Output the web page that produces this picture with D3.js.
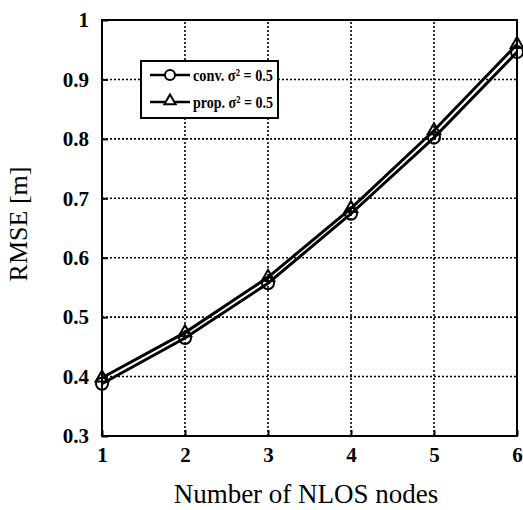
<!DOCTYPE html>
<html>
<head>
<meta charset="utf-8">
<script src="https://cdn.jsdelivr.net/npm/d3@7"></script>
<style>
  body { margin: 0; background: #fff; }
  text { font-family: "Liberation Serif", "DejaVu Serif", serif; }
</style>
</head>
<body>
<div id="chart"></div>
<script>
// data
var nodes = [1, 2, 3, 4, 5, 6]
var convRmse = [0.388, 0.465, 0.557, 0.674, 0.802, 0.946]
var propRmse = [0.398, 0.474, 0.567, 0.683, 0.814, 0.959]
var xTicks = [1, 2, 3, 4, 5, 6]
var yTicks = [0.3, 0.4, 0.5, 0.6, 0.7, 0.8, 0.9, 1]
var legendNames = ["conv. \u03c3\u00b2 = 0.5", "prop. \u03c3\u00b2 = 0.5"]

var width = 523, height = 510
var margin = {top: 20, right: 6, bottom: 74, left: 102}

var svg = d3.select("#chart").append("svg")
  .attr("width", width).attr("height", height)

var x = d3.scaleLinear().domain([1, 6]).range([margin.left, width - margin.right])
var y = d3.scaleLinear().domain([0.3, 1]).range([height - margin.bottom, margin.top])

// dotted grid
svg.append("g").selectAll("line.gx")
  .data(xTicks.slice(1, -1)).enter().append("line")
  .attr("x1", function(d){ return x(d) }).attr("x2", function(d){ return x(d) })
  .attr("y1", y(0.3)).attr("y2", y(1))
  .attr("stroke", "#000").attr("stroke-width", 1.6).attr("stroke-dasharray", "2,2")
svg.append("g").selectAll("line.gy")
  .data(yTicks.slice(1, -1)).enter().append("line")
  .attr("x1", x(1)).attr("x2", x(6))
  .attr("y1", function(d){ return y(d) }).attr("y2", function(d){ return y(d) })
  .attr("stroke", "#000").attr("stroke-width", 1.6).attr("stroke-dasharray", "2,2")

// axes
var xAxis = svg.append("g")
  .attr("transform", "translate(0," + y(0.3) + ")")
  .call(d3.axisBottom(x).tickValues(xTicks).tickFormat(d3.format("d")).tickSize(-6).tickPadding(11))
var yAxis = svg.append("g")
  .attr("transform", "translate(" + x(1) + ",0)")
  .call(d3.axisLeft(y).tickValues(yTicks).tickFormat(function(d){ return d === 1 ? "1" : d3.format(".1f")(d) }).tickSize(-6).tickPadding(13))
;[xAxis, yAxis].forEach(function(a){
  a.attr("font-size", null).attr("font-family", null)
  a.select(".domain").remove()
  a.selectAll(".tick line").attr("stroke", "#000").attr("stroke-width", 2)
  a.selectAll(".tick text").attr("font-weight", "bold").attr("fill", "#000")
    .style("font-size", "21px")
})

// frame
svg.append("rect")
  .attr("x", x(1)).attr("y", y(1))
  .attr("width", x(6) - x(1)).attr("height", y(0.3) - y(1))
  .attr("fill", "none").attr("stroke", "#000").attr("stroke-width", 2)

// lines
var line = d3.line().x(function(d){ return x(d[0]) }).y(function(d){ return y(d[1]) })
var convPts = nodes.map(function(n, i){ return [n, convRmse[i]] })
var propPts = nodes.map(function(n, i){ return [n, propRmse[i]] })

svg.append("path").datum(convPts).attr("d", line)
  .attr("fill", "none").attr("stroke", "#000").attr("stroke-width", 3)
svg.append("path").datum(propPts).attr("d", line)
  .attr("fill", "none").attr("stroke", "#000").attr("stroke-width", 3)

var tri = d3.symbol().type(d3.symbolTriangle).size(70)
svg.selectAll("path.tri").data(propPts).enter().append("path")
  .attr("d", tri)
  .attr("transform", function(d){ return "translate(" + x(d[0]) + "," + y(d[1]) + ")" })
  .attr("fill", "none").attr("stroke", "#000").attr("stroke-width", 2)
svg.selectAll("circle.conv").data(convPts).enter().append("circle")
  .attr("cx", function(d){ return x(d[0]) }).attr("cy", function(d){ return y(d[1]) })
  .attr("r", 6).attr("fill", "none").attr("stroke", "#000").attr("stroke-width", 2)

// legend
var lg = svg.append("g").attr("transform", "translate(141,61)")
lg.append("rect").attr("width", 137).attr("height", 57)
  .attr("fill", "#fff").attr("stroke", "#000").attr("stroke-width", 2)
var rows = [14, 41]
legendNames.forEach(function(name, i){
  var yy = rows[i]
  lg.append("line").attr("x1", 9).attr("x2", 49).attr("y1", yy).attr("y2", yy)
    .attr("stroke", "#000").attr("stroke-width", 2.5)
  if (i == 0) {
    lg.append("circle").attr("cx", 29).attr("cy", yy).attr("r", 5)
      .attr("fill", "#fff").attr("stroke", "#000").attr("stroke-width", 2)
  } else {
    lg.append("path").attr("d", d3.symbol().type(d3.symbolTriangle).size(55)).attr("transform", "translate(29," + (yy - 1) + ")")
      .attr("fill", "#fff").attr("stroke", "#000").attr("stroke-width", 2)
  }
  lg.append("text").attr("x", 52).attr("y", yy + 6)
    .attr("font-size", "17px").attr("font-weight", "bold")
    .attr("textLength", 80).attr("lengthAdjust", "spacingAndGlyphs")
    .text(name)
})

// axis titles
svg.append("text")
  .attr("transform", "translate(27,224) rotate(-90)")
  .attr("text-anchor", "middle").attr("font-size", "26px")
  .text("RMSE [m]")
svg.append("text")
  .attr("x", 306).attr("y", 503)
  .attr("text-anchor", "middle").attr("font-size", "27px")
  .text("Number of NLOS nodes")
</script>
</body>
</html>
